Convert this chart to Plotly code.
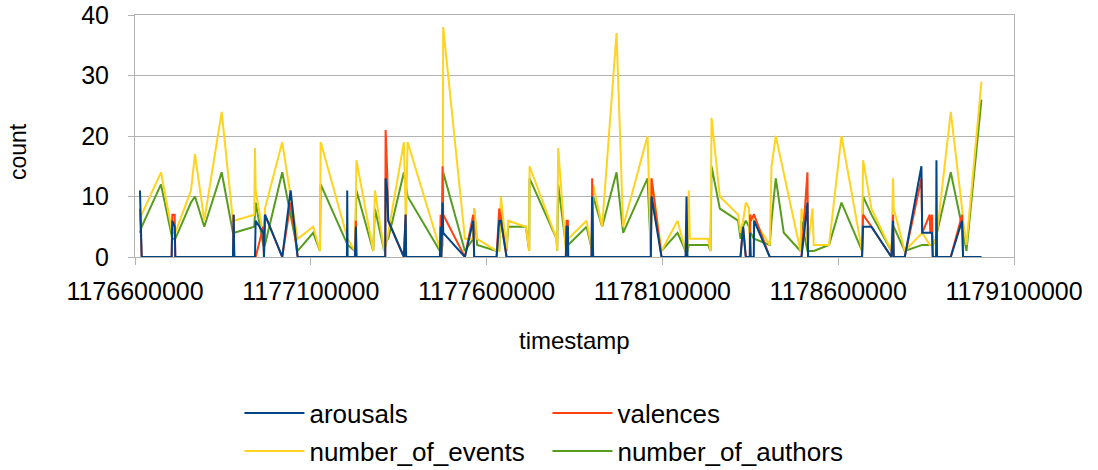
import plotly.graph_objects as go

# Sample timestamps (unix seconds) shared by all four series
timestamp = [
    1176614200, 1176619000, 1176673900, 1176704300, 1176706100, 1176712900, 1176714600, 1176759200, 1176770600, 1176797000,
    1176846500, 1176878600, 1176880600, 1176882300, 1176939200, 1176941200, 1176943200, 1176964800, 1176966800, 1176969600,
    1177018800, 1177042700, 1177062600, 1177106900, 1177126000, 1177128000, 1177202800, 1177203600, 1177204700, 1177225500,
    1177228300, 1177229800, 1177277500, 1177282400, 1177308800, 1177311700, 1177312800, 1177317300, 1177320200, 1177364800,
    1177369700, 1177371100, 1177375300, 1177467200, 1177469200, 1177471400, 1177474900, 1177476600, 1177538300, 1177561900,
    1177564700, 1177573200, 1177628400, 1177635800, 1177640600, 1177656800, 1177661400, 1177711700, 1177721100, 1177722200,
    1177799000, 1177800700, 1177803500, 1177825400, 1177827400, 1177831100, 1177832000, 1177884300, 1177898500, 1177900200,
    1177903000, 1177928600, 1177969600, 1177988300, 1178057700, 1178067100, 1178069100, 1178097500, 1178143000, 1178165800,
    1178168600, 1178171400, 1178175100, 1178178000, 1178230000, 1178236800, 1178239700, 1178263300, 1178315300, 1178322100,
    1178329500, 1178337200, 1178346600, 1178348600, 1178349400, 1178351400, 1178359900, 1178360800, 1178405400, 1178410300,
    1178422500, 1178445200, 1178492700, 1178495600, 1178512600, 1178514300, 1178526800, 1178530500, 1178574000, 1178609300,
    1178667900, 1178670700, 1178694600, 1178751400, 1178756000, 1178758000, 1178789300, 1178836700, 1178839000, 1178860300,
    1178861800, 1178866900, 1178868900, 1178878300, 1178879400, 1178881100, 1178920100, 1178952300, 1178955100, 1178964800,
    1179007400,
]

arousals = [
    11, 0, 0, 0, 6, 5, 0, 0, 0, 0,
    0, 0, 7, 0, 0, 0, 6, 4, 0, 7,
    0, 11, 0, 0, 0, 0, 0, 11, 0, 0,
    5, 0, 0, 0, 0, 0, 13, 11, 6, 0,
    7, 0, 0, 0, 5, 0, 9, 4, 0, 6,
    0, 0, 0, 6, 6, 0, 0, 0, 0, 0,
    0, 0, 0, 0, 5, 5, 0, 0, 0, 10,
    0, 0, 0, 0, 0, 0, 10, 0, 0, 0,
    10, 0, 0, 0, 0, 0, 0, 0, 0, 0,
    5, 0, 0, 0, 4, 0, 0, 6, 0, 0,
    0, 0, 0, 0, 9, 0, 0, 0, 0, 0,
    0, 5, 5, 0, 6, 0, 0, 15, 4, 4,
    4, 4, 0, 0, 16, 0, 0, 6, 0, 0,
    0,
]

valences = [
    8, 0, 0, 0, 7, 7, 0, 0, 0, 0,
    0, 0, 7, 0, 0, 0, 0, 5, 0, 7,
    0, 9, 0, 0, 0, 0, 0, 0, 0, 0,
    6, 0, 0, 0, 0, 0, 21, 14, 6, 0,
    7, 0, 0, 0, 7, 0, 15, 7, 0, 7,
    0, 0, 0, 8, 6, 0, 0, 0, 0, 0,
    0, 0, 0, 0, 6, 6, 0, 0, 0, 13,
    0, 0, 0, 0, 0, 0, 13, 0, 0, 0,
    0, 0, 0, 0, 0, 0, 0, 0, 0, 0,
    5, 0, 0, 0, 7, 6, 7, 7, 0, 0,
    0, 0, 0, 0, 14, 0, 0, 0, 0, 0,
    0, 7, 5, 0, 7, 0, 0, 13, 4, 7,
    4, 7, 0, 0, 0, 0, 0, 7, 0, 0,
    0,
]

number_of_events = [
    6, 7, 14, 4, 4, 4, 4, 11, 17, 6,
    24, 6, 6, 6, 7, 18, 11, 3, 3, 8,
    19, 10, 3, 5, 1, 19, 3, 3, 3, 1,
    16, 16, 1, 11, 1, 2, 2, 3, 4, 19,
    7, 7, 19, 1, 1, 1, 2, 38, 3, 3,
    8, 3, 1, 1, 10, 1, 6, 5, 1, 15,
    3, 1, 18, 1, 1, 2, 3, 6, 1, 1,
    12, 5, 37, 5, 20, 1, 13, 1, 6, 1,
    1, 1, 11, 3, 3, 1, 23, 10, 7, 4,
    6, 9, 8, 2, 3, 7, 6, 6, 2, 15,
    20, 14, 1, 8, 2, 2, 8, 2, 2, 20,
    1, 16, 8, 1, 13, 8, 1, 4, 4, 2,
    2, 2, 2, 3, 3, 4, 24, 8, 6, 2,
    29,
]

number_of_authors = [
    4, 5, 12, 3, 3, 3, 3, 9, 10, 5,
    14, 4, 4, 4, 5, 8, 9, 2, 2, 2,
    14, 7, 1, 4, 1, 12, 2, 2, 2, 1,
    11, 11, 1, 8, 1, 2, 2, 3, 3, 14,
    12, 12, 10, 1, 1, 1, 2, 14, 1, 3,
    8, 2, 1, 1, 8, 1, 5, 5, 1, 13,
    3, 1, 12, 1, 1, 2, 2, 5, 1, 1,
    10, 5, 14, 4, 13, 1, 10, 1, 4, 1,
    1, 1, 2, 2, 2, 1, 15, 8, 6, 3,
    5, 6, 5, 4, 4, 4, 3, 3, 2, 6,
    13, 4, 1, 6, 1, 1, 1, 1, 2, 9,
    1, 10, 7, 1, 5, 5, 1, 2, 2, 2,
    2, 2, 2, 3, 3, 4, 14, 5, 4, 1,
    26,
]

x_ticks = [1176600000, 1177100000, 1177600000, 1178100000, 1178600000, 1179100000]
y_ticks = [0, 10, 20, 30, 40]

FONT = "Liberation Sans, Arial, sans-serif"
GRID = "#b3b3b3"

fig = go.Figure()

# later traces paint over earlier ones, so arousals ends up on top
series = [
    ("number_of_authors", number_of_authors, "#579d1c", "legend2", 2),
    ("number_of_events", number_of_events, "#ffd320", "legend2", 1),
    ("valences", valences, "#ff420e", "legend", 2),
    ("arousals", arousals, "#004586", "legend", 1),
]
for name, values, color, leg, rank in series:
    fig.add_trace(go.Scatter(
        x=timestamp, y=values, name=name, mode="lines",
        line=dict(color=color, width=2),
        legend=leg, legendrank=rank, hoverinfo="skip",
    ))

legend_style = dict(
    orientation="h", x=0.1188, xanchor="left", yref="container", yanchor="middle",
    font=dict(size=26, family=FONT, color="#000000"), itemwidth=60,
    entrywidth=233, entrywidthmode="pixels", traceorder="normal",
    bgcolor="rgba(0,0,0,0)",
)

fig.update_layout(
    width=1098, height=470,
    margin=dict(l=135, r=84, t=15, b=213, autoexpand=False),
    paper_bgcolor="white", plot_bgcolor="white",
    font=dict(family=FONT, color="#000000"),
    showlegend=True,
    legend=dict(y=0.121, **legend_style),
    legend2=dict(y=0.040, **legend_style),
    xaxis=dict(
        range=[x_ticks[0], x_ticks[-1]], tickvals=x_ticks, tickformat="d",
        showgrid=False, zeroline=False,
        showline=True, mirror=True, linecolor=GRID, linewidth=1,
        ticks="outside", ticklen=7, tickcolor=GRID, ticklabelstandoff=5,
        tickfont=dict(size=25, family=FONT, color="#000000"),
    ),
    yaxis=dict(
        range=[0, 40], tickvals=y_ticks,
        showgrid=True, gridcolor=GRID, gridwidth=1, zeroline=False,
        showline=True, mirror=True, linecolor=GRID, linewidth=1,
        ticks="outside", ticklen=6, tickcolor=GRID, ticklabelstandoff=14,
        tickfont=dict(size=25, family=FONT, color="#000000"),
    ),
    annotations=[
        dict(text="timestamp", x=0.5, y=-0.347, xref="paper", yref="paper",
             xanchor="center", yanchor="middle", showarrow=False,
             font=dict(size=24, family=FONT, color="#000000")),
        dict(text="count", x=-0.133, y=0.434, xref="paper", yref="paper",
             xanchor="center", yanchor="middle", showarrow=False, textangle=-90,
             font=dict(size=23, family=FONT, color="#000000")),
    ],
)

fig.write_html("out.html")
